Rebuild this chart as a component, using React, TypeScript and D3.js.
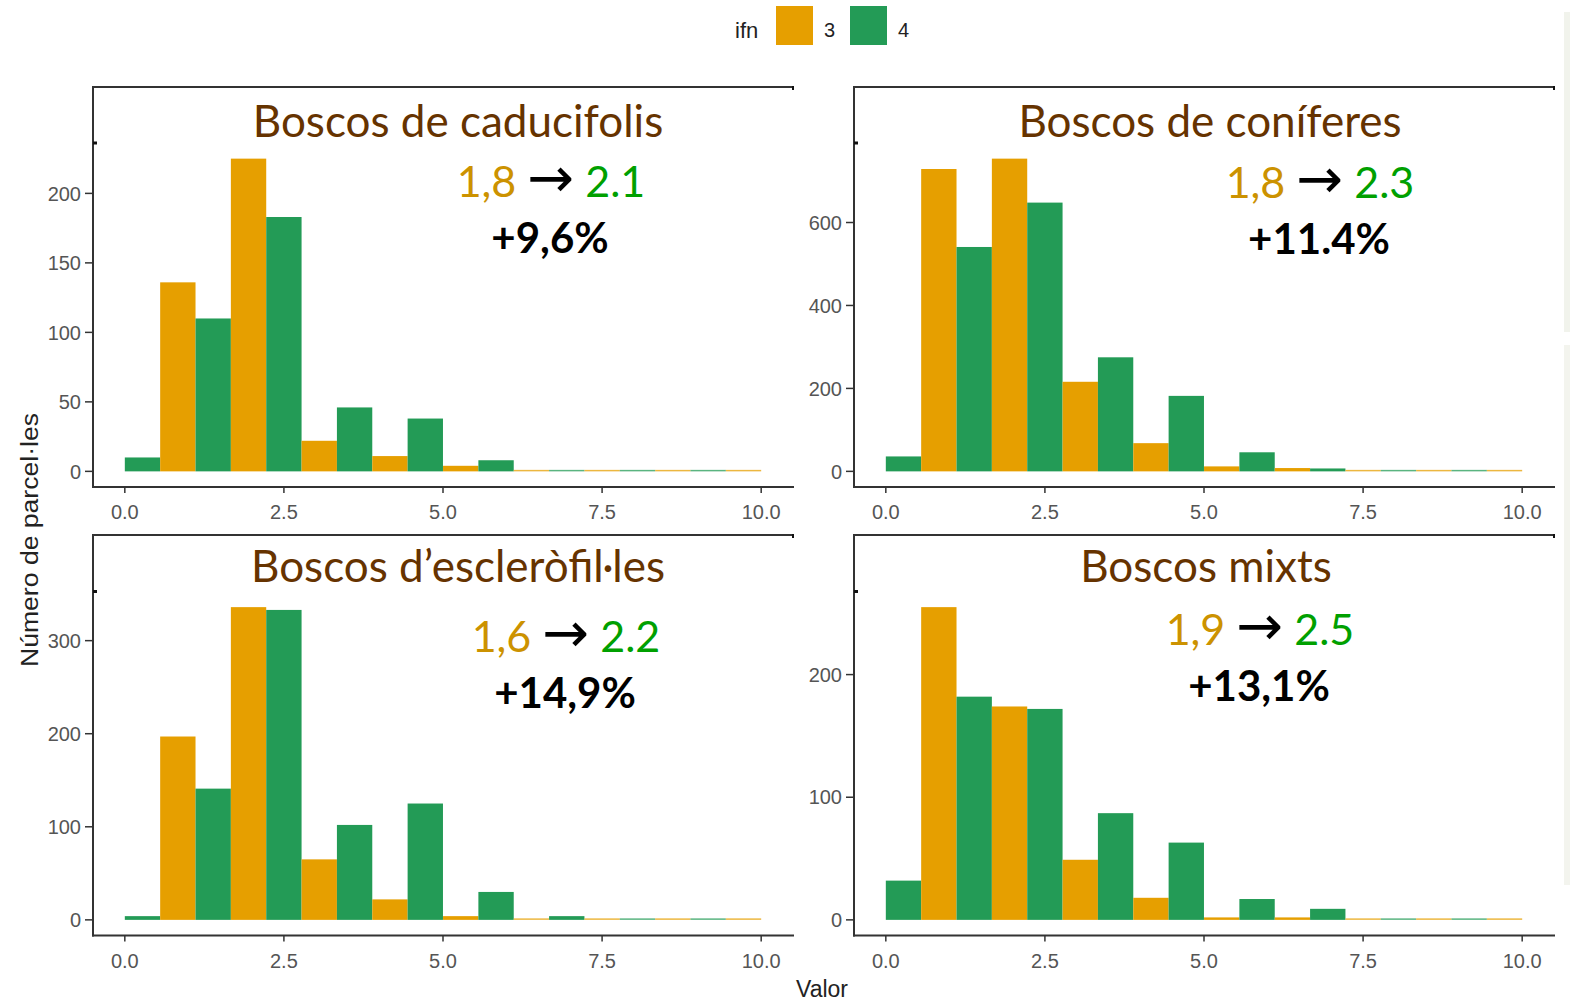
import React from "react";
import * as d3 from "d3";

const W = 1570;
const H = 1002;

// histogram bins (centre of each bin, bin width), two ifn editions dodged inside each bin
const binCenters = [0, 1.111, 2.222, 3.333, 4.444, 5.556, 6.667, 7.778, 8.889, 10];
const binWidth = 1.111;
const xTicks = [0, 2.5, 5, 7.5, 10];

const ifnLevels = ["3", "4"];
const ifnColors = ["#E69F00", "#239B56"];

const caducifolis3 = [0, 136, 225, 22, 11, 4, 0, 0, 0, 0];
const caducifolis4 = [10, 110, 183, 46, 38, 8, 0, 0, 0, 0];
const coniferes3 = [0, 729, 754, 216, 68, 12, 8, 0, 0, 0];
const coniferes4 = [36, 541, 648, 275, 182, 46, 7, 0, 0, 0];
const esclerofil3 = [0, 197, 336, 65, 22, 4, 0, 0, 0, 0];
const esclerofil4 = [4, 141, 333, 102, 125, 30, 4, 0, 0, 0];
const mixts3 = [0, 255, 174, 49, 18, 2, 2, 0, 0, 0];
const mixts4 = [32, 182, 172, 87, 63, 17, 9, 0, 0, 0];

const panelTitles = ["Boscos de caducifolis", "Boscos de coníferes", "Boscos d\u2019escleròfil·les", "Boscos mixts"];
const meanBefore = ["1,8", "1,8", "1,6", "1,9"];
const meanAfter = ["2.1", "2.3", "2.2", "2.5"];
const changeLabels = ["+9,6%", "+11.4%", "+14,9%", "+13,1%"];
const yTickSets = [
  [0, 50, 100, 150, 200],
  [0, 200, 400, 600],
  [0, 100, 200, 300],
  [0, 100, 200],
];
const seriesByPanel = [
  [caducifolis3, caducifolis4],
  [coniferes3, coniferes4],
  [esclerofil3, esclerofil4],
  [mixts3, mixts4],
];

// layout of the four facets (pixels)
const panels = [
  { left: 93, boxTop: 87, top: 143, bottom: 487, titleX: 458, titleY: 137, noteX: 551, noteY: 197 },
  { left: 854, boxTop: 87, top: 143, bottom: 487, titleX: 1210, titleY: 137, noteX: 1320, noteY: 198 },
  { left: 93, boxTop: 535, top: 591.5, bottom: 935.5, titleX: 458, titleY: 582, noteX: 566, noteY: 652 },
  { left: 854, boxTop: 535, top: 591.5, bottom: 935.5, titleX: 1206, titleY: 582, noteX: 1260, noteY: 645 },
];
const PANEL_W = 701;

const axisColor = "#333";
const tickText = "#555";
const tickFont = "'Liberation Sans', Arial, sans-serif";
const noteFont = "Lato, 'Open Sans', sans-serif";

const Panel = ({ idx }: { idx: number }) => {
  const p = panels[idx];
  const series = seriesByPanel[idx];
  const maxV = d3.max(series.flat()) as number;
  const x = d3.scaleLinear().domain([-0.5, 10.5]).range([p.left, p.left + 700]);
  const y = d3.scaleLinear().domain([-0.05 * maxV, 1.05 * maxV]).range([p.bottom, p.top]);
  const y0 = y(0);

  const bars: { x0: number; x1: number; v: number; k: number }[] = [];
  binCenters.forEach((c, i) => {
    series.forEach((s, k) => {
      const a = c - binWidth / 2 + (k * binWidth) / 2;
      const b = a + binWidth / 2;
      if (a < -0.01 || b > 10.01) return; // outside scale limits -> dropped
      bars.push({ x0: a, x1: b, v: s[i], k });
    });
  });

  return (
    <g>
      {bars.map((d, i) => {
        const top = Math.min(y(d.v), y0 - 1.5);
        return (
          <rect
            key={i}
            x={x(d.x0)}
            y={top}
            width={x(d.x1) - x(d.x0)}
            height={y0 - top}
            fill={ifnColors[d.k]}
            opacity={d.v === 0 ? 0.75 : 1}
          />
        );
      })}

      {/* box top line + left axis line */}
      <line x1={p.left} x2={p.left + PANEL_W} y1={p.boxTop} y2={p.boxTop} stroke={axisColor} strokeWidth={2} />
      <line x1={p.left + PANEL_W - 1} x2={p.left + PANEL_W - 1} y1={p.boxTop - 1} y2={p.boxTop + 3} stroke="#111" strokeWidth={2} />
      <line x1={p.left} x2={p.left} y1={p.boxTop - 1} y2={p.bottom + 1} stroke={axisColor} strokeWidth={2} />
      <line x1={p.left} x2={p.left + 4} y1={p.top} y2={p.top} stroke="#111" strokeWidth={3} />
      {/* bottom axis */}
      <line x1={p.left - 1} x2={p.left + PANEL_W} y1={p.bottom} y2={p.bottom} stroke={axisColor} strokeWidth={2} />

      {xTicks.map((t) => (
        <g key={t}>
          <line x1={x(t)} x2={x(t)} y1={p.bottom} y2={p.bottom + 6} stroke={axisColor} strokeWidth={1.5} />
          <text x={x(t)} y={p.bottom + 32} textAnchor="middle" fontSize={20} fill={tickText} fontFamily={tickFont}>
            {t.toFixed(1)}
          </text>
        </g>
      ))}
      {yTickSets[idx].map((t) => (
        <g key={t}>
          <line x1={p.left - 8} x2={p.left} y1={y(t)} y2={y(t)} stroke={axisColor} strokeWidth={1.5} />
          <text x={p.left - 12} y={y(t)} dy="0.36em" textAnchor="end" fontSize={20} fill={tickText} fontFamily={tickFont}>
            {t}
          </text>
        </g>
      ))}

      <text x={p.titleX} y={p.titleY} textAnchor="middle" fontSize={44} fill="#663300" fontFamily={noteFont}>
        {panelTitles[idx]}
      </text>
      <text x={p.noteX} y={p.noteY} textAnchor="middle" fontSize={43} fontFamily={noteFont}>
        <tspan fill="#CC9200">{meanBefore[idx]}</tspan>
        <tspan fill="#000">{" "}</tspan>
        <tspan fill="#000" fontFamily="'DejaVu Sans', sans-serif" fontSize={56}>{"\u2192"}</tspan>
        <tspan fill="#000">{" "}</tspan>
        <tspan fill="#00A000">{meanAfter[idx]}</tspan>
      </text>
      <text x={p.noteX - 1} y={p.noteY + 56} textAnchor="middle" fontSize={42} fontWeight="bold" fill="#000" fontFamily={noteFont}>
        {changeLabels[idx]}
      </text>
    </g>
  );
};

const App = () => {
  return (
    <div style={{ position: "absolute", left: 0, top: 0 }}>
      <svg width={W} height={H} style={{ display: "block", background: "#fff" }}>
        {/* faint edge of neighbouring slide */}
        <rect x={1564} y={12} width={6} height={320} fill="#f1f3ec" />
        <rect x={1564} y={345} width={6} height={540} fill="#f3f4ee" />

        {/* legend */}
        <text x={735} y={38} fontSize={22} fill="#222" fontFamily={tickFont}>ifn</text>
        {ifnLevels.map((lv, i) => (
          <g key={lv}>
            <rect x={776 + i * 74} y={6} width={37} height={39} fill={ifnColors[i]} />
            <text x={824 + i * 74} y={37} fontSize={20} fill="#222" fontFamily={tickFont}>{lv}</text>
          </g>
        ))}

        {panels.map((_, i) => (
          <Panel key={i} idx={i} />
        ))}

        {/* axis titles */}
        <text
          transform="translate(38,540) rotate(-90)"
          textAnchor="middle"
          fontSize={23}
          fill="#222"
          fontFamily={tickFont}
          textLength={254}
          lengthAdjust="spacingAndGlyphs"
        >
          Número de parcel·les
        </text>
        <text x={822} y={997} textAnchor="middle" fontSize={23} fill="#222" fontFamily={tickFont}>
          Valor
        </text>
      </svg>
    </div>
  );
};

export default App;
